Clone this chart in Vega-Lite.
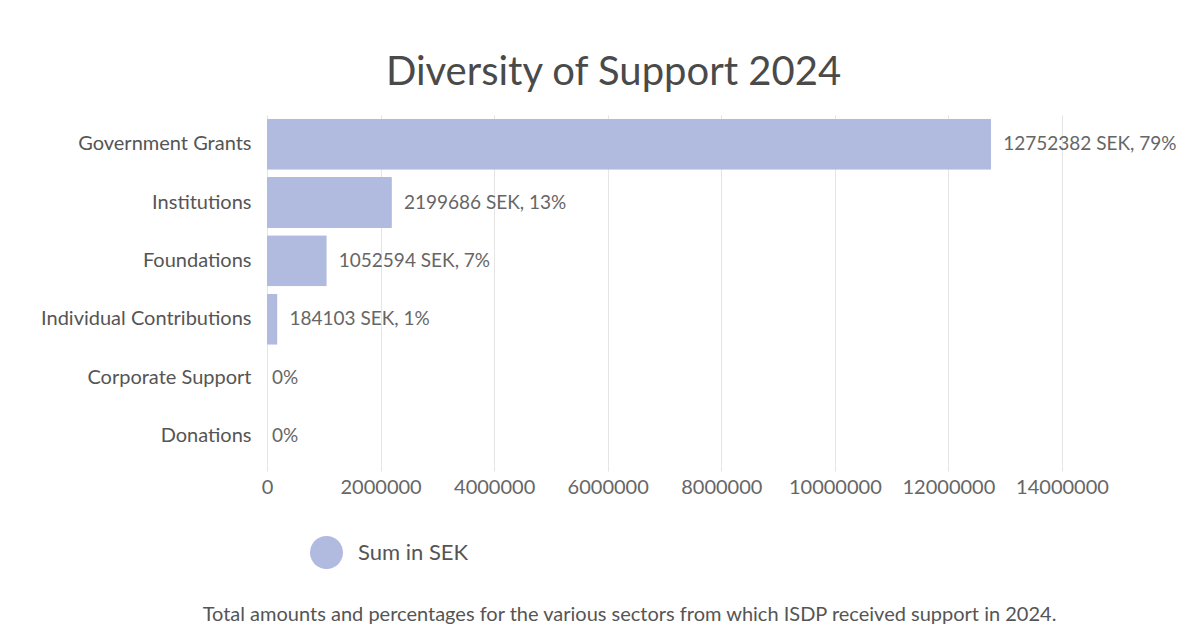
{
  "$schema": "https://vega.github.io/schema/vega-lite/v6.json",
  "width": 795,
  "height": 350,
  "autosize": "none",
  "padding": {"left": 267, "top": 115, "right": 135, "bottom": 178},
  "background": "white",
  "title": {
    "text": "Diversity of Support 2024",
    "anchor": "middle",
    "dx": -51,
    "offset": 22,
    "font": "Lato",
    "fontSize": 40,
    "fontWeight": "normal",
    "color": "#4a4a4a"
  },
  "data": {
    "values": [
      {"category": "Government Grants", "value": 12752382, "label": "12752382 SEK, 79%"},
      {"category": "Institutions", "value": 2199686, "label": "2199686 SEK, 13%"},
      {"category": "Foundations", "value": 1052594, "label": "1052594 SEK, 7%"},
      {"category": "Individual Contributions", "value": 184103, "label": "184103 SEK, 1%"},
      {"category": "Corporate Support", "value": 0, "label": "0%"},
      {"category": "Donations", "value": 0, "label": "0%"}
    ]
  },
  "encoding": {
    "y": {
      "field": "category",
      "type": "nominal",
      "sort": null,
      "scale": {"paddingInner": 0.125, "paddingOuter": 0.0625},
      "axis": {
        "title": null,
        "domain": false,
        "ticks": false,
        "labelPadding": 16,
        "labelLimit": 400,
        "labelFont": "Lato",
        "labelFontSize": 20,
        "labelColor": "#555555"
      }
    },
    "x": {
      "field": "value",
      "type": "quantitative",
      "scale": {"domain": [0, 14000000], "nice": false},
      "axis": {
        "values": [0, 2000000, 4000000, 6000000, 8000000, 10000000, 12000000, 14000000],
        "format": "d",
        "labelOverlap": false,
        "labelFlush": false,
        "grid": true,
        "gridColor": "#e4e4e4",
        "domain": false,
        "ticks": true,
        "tickColor": "#e4e4e4",
        "tickSize": 6,
        "labelPadding": 6,
        "labelFont": "Lato",
        "labelFontSize": 20,
        "labelColor": "#666666",
        "title": "Total amounts and percentages for the various sectors from which ISDP received support in 2024.",
        "titleFont": "Lato",
        "titleFontSize": 20,
        "titleFontWeight": "normal",
        "titleColor": "#555555",
        "titleX": 362,
        "titleY": 149,
        "titleAlign": "center",
        "titleBaseline": "middle",
        "titleAnchor": null
      }
    }
  },
  "layer": [
    {
      "mark": {"type": "bar", "cornerRadius": 1},
      "encoding": {
        "color": {
          "datum": "Sum in SEK",
          "type": "nominal",
          "scale": {"range": ["#b1badf"]},
          "legend": {
            "title": null,
            "orient": "none",
            "legendX": 43,
            "legendY": 421,
            "symbolType": "circle",
            "symbolSize": 1089,
            "symbolStrokeWidth": 0,
            "symbolOpacity": 1,
            "labelFont": "Lato",
            "labelFontSize": 22,
            "labelColor": "#555555",
            "labelOffset": 15,
            "padding": 0
          }
        }
      }
    },
    {
      "transform": [{"filter": "datum.value > 0"}],
      "mark": {"type": "text", "align": "left", "baseline": "middle", "dx": 12, "font": "Lato", "fontSize": 19, "color": "#666666"},
      "encoding": {"text": {"field": "label"}}
    },
    {
      "transform": [{"filter": "datum.value == 0"}],
      "mark": {"type": "text", "align": "left", "baseline": "middle", "dx": 5, "font": "Lato", "fontSize": 19, "color": "#666666"},
      "encoding": {"text": {"field": "label"}}
    }
  ],
  "config": {"view": {"stroke": null}}
}
